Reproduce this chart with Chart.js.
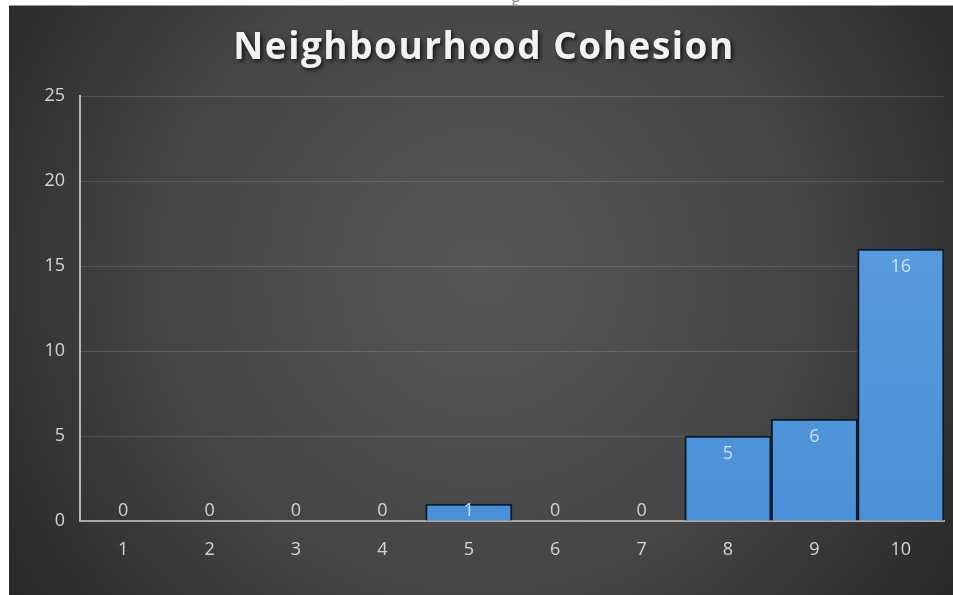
<!DOCTYPE html>
<html>
<head>
<meta charset="utf-8">
<script src="https://cdn.jsdelivr.net/npm/chart.js@4"></script>
<style>
  html, body { margin: 0; padding: 0; background: #ffffff; }
  body { width: 953px; height: 595px; position: relative; overflow: hidden; }
  #wrap { position: absolute; left: 9px; top: 5px; width: 944px; height: 590px; border-top: 1px solid #9a9a9a; box-sizing: border-box; }
  #stray { position: absolute; left: 511px; top: -13px; font: 18px "Open Sans", sans-serif; color: #8a8a8a; }
</style>
</head>
<body>
<div id="stray">g</div>
<div id="wrap"><canvas id="c" width="944" height="589"></canvas></div>
<script>
const titleText = 'Neighbourhood Cohesion';
const scores = ['1', '2', '3', '4', '5', '6', '7', '8', '9', '10'];
const counts = [0, 0, 0, 0, 1, 0, 0, 5, 6, 16];
const yTicks = [0, 5, 10, 15, 20, 25];

const tickFont = { family: '"Open Sans", sans-serif', size: 18 };

// Radial backdrop, lighter in the middle of the panel
const backdrop = {
  id: 'backdrop',
  beforeDraw(chart) {
    const { ctx, width, height } = chart;
    const g = ctx.createRadialGradient(width * 0.5, height * 0.45, 0, width * 0.5, height * 0.45, width * 0.62);
    g.addColorStop(0, '#575757');
    g.addColorStop(0.55, '#454545');
    g.addColorStop(1, '#262626');
    ctx.save();
    ctx.fillStyle = g;
    ctx.fillRect(0, 0, width, height);
    ctx.restore();
  }
};

// Heading with a soft drop shadow
const heading = {
  id: 'heading',
  afterDraw(chart) {
    const { ctx, width } = chart;
    ctx.save();
    ctx.font = 'bold 37px "Open Sans", sans-serif';
    ctx.letterSpacing = '1.5px';
    ctx.textAlign = 'center';
    ctx.textBaseline = 'middle';
    ctx.shadowColor = 'rgba(0,0,0,0.75)';
    ctx.shadowBlur = 4;
    ctx.shadowOffsetX = 2;
    ctx.shadowOffsetY = 2;
    ctx.fillStyle = '#f2f2f2';
    ctx.fillText(titleText, width / 2 + 3, 42);
    ctx.restore();
  }
};

// Value labels at the inside end of each bar
const valueLabels = {
  id: 'valueLabels',
  afterDatasetsDraw(chart) {
    const { ctx } = chart;
    const meta = chart.getDatasetMeta(0);
    const base = chart.scales.y.getPixelForValue(0);
    ctx.save();
    ctx.font = '18px "Open Sans", sans-serif';
    ctx.textAlign = 'center';
    ctx.textBaseline = 'middle';
    meta.data.forEach((bar, i) => {
      const v = counts[i];
      const y = Math.min(bar.y + 18, base - 10);
      ctx.fillStyle = v > 0 ? '#cfe2f5' : '#d4d4d4';
      ctx.fillText(String(v), bar.x, y);
    });
    ctx.restore();
  }
};

new Chart(document.getElementById('c'), {
  type: 'bar',
  data: {
    labels: scores,
    datasets: [{
      data: counts,
      backgroundColor: (c) => {
        const area = c.chart.chartArea;
        if (!area) return '#5398dc';
        const g = c.chart.ctx.createLinearGradient(0, area.top, 0, area.bottom);
        g.addColorStop(0, '#5ea2e2');
        g.addColorStop(1, '#4b8fd6');
        return g;
      },
      borderColor: '#0c1a2e',
      borderWidth: 2,
      categoryPercentage: 1,
      barPercentage: 1
    }]
  },
  options: {
    responsive: false,
    animation: false,
    events: [],
    layout: { padding: { top: 90, right: 9, left: 0, bottom: 0 } },
    plugins: {
      legend: { display: false },
      title: { display: false },
      tooltip: { enabled: false }
    },
    scales: {
      x: {
        grid: { display: false, drawTicks: false },
        border: { color: '#a8a8a8', width: 2 },
        ticks: { color: '#d6d6d6', font: tickFont, padding: 18 },
        afterFit(s) { s.height = 74; }
      },
      y: {
        min: 0,
        max: 25,
        afterBuildTicks(s) { s.ticks = yTicks.map(v => ({ value: v })); },
        grid: { color: 'rgba(255,255,255,0.13)', drawTicks: false },
        border: { color: '#b5b5b5', width: 2 },
        ticks: { color: '#d6d6d6', font: tickFont, padding: 15 },
        afterFit(s) { s.width = 71; }
      }
    }
  },
  plugins: [backdrop, heading, valueLabels]
});
</script>
</body>
</html>
